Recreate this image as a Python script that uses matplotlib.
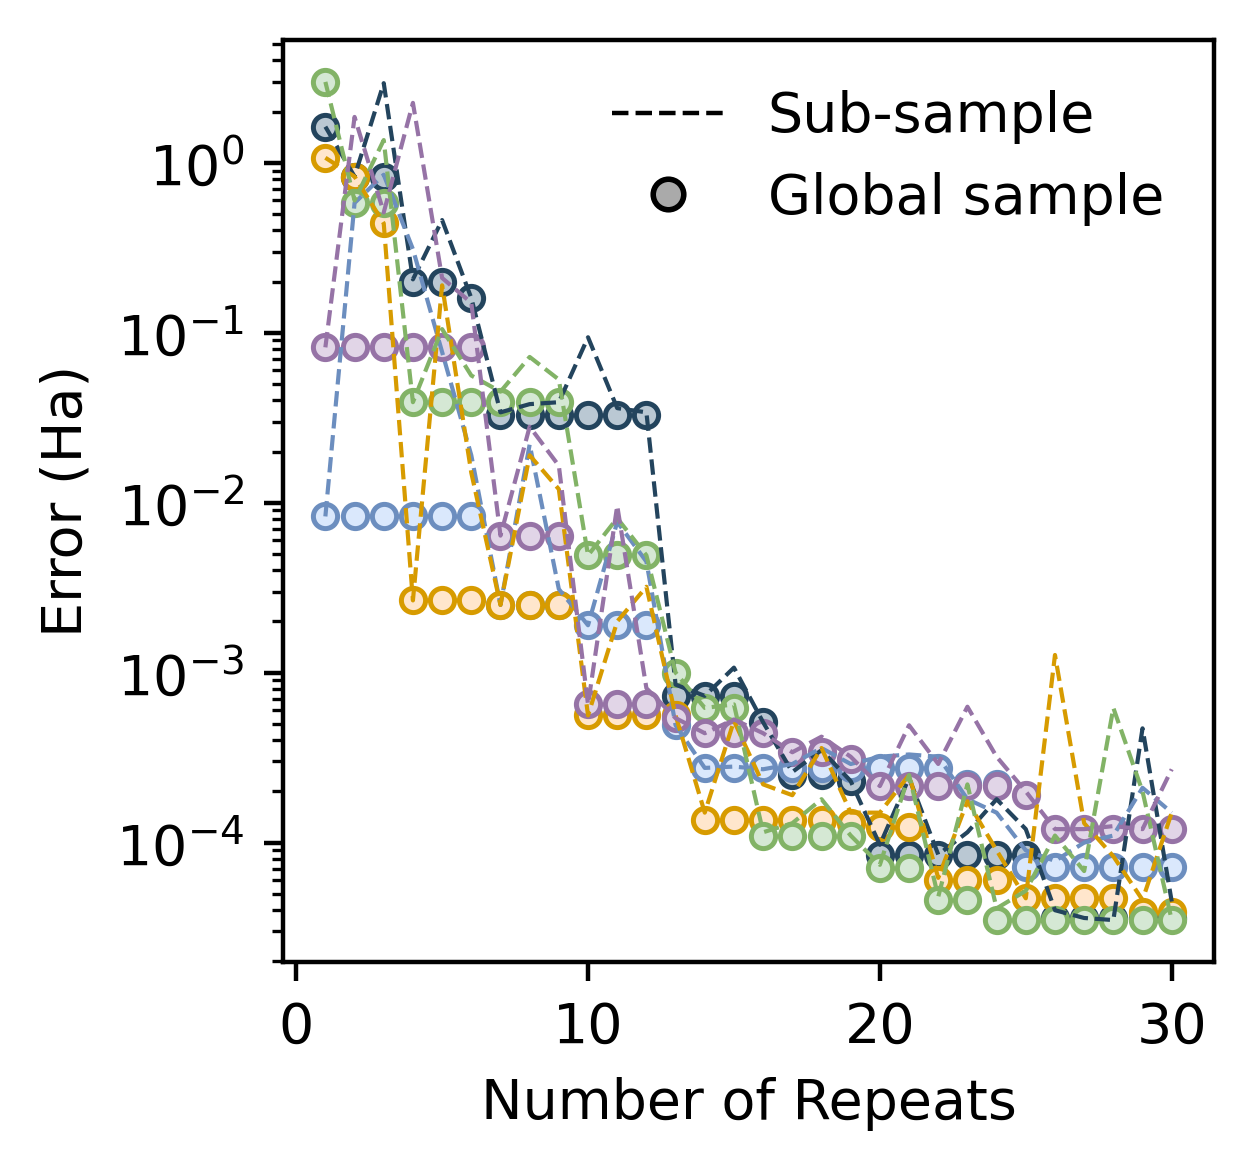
import numpy as np
import matplotlib
matplotlib.use("Agg")
import matplotlib.pyplot as plt
from matplotlib.lines import Line2D

repeats = list(range(1, 31))

navy_sub = [1.63, 0.83, 2.94, 0.206, 0.46, 0.16, 0.034, 0.038, 0.039, 0.094,
            0.036, 0.034, 8.5e-4, 7.3e-4, 1.07e-3, 5.1e-4, 2.6e-4, 3.5e-4, 2.3e-4, 9.7e-5,
            2.4e-4, 8.5e-5, 1.15e-4, 1.8e-4, 1.2e-4, 4.0e-5, 3.6e-5, 3.5e-5, 4.7e-4, 4.5e-5]
navy_glob = [1.63, 0.82, 0.82, 0.20, 0.20, 0.16, 0.033, 0.033, 0.033, 0.033,
             0.033, 0.033, 7.3e-4, 7.3e-4, 7.3e-4, 5.1e-4, 2.5e-4, 2.5e-4, 2.3e-4, 8.4e-5,
             8.4e-5, 8.4e-5, 8.4e-5, 8.4e-5, 8.4e-5, 3.6e-5, 3.6e-5, 3.6e-5, 3.6e-5, 3.6e-5]

blue_sub = [8.3e-3, 0.58, 0.85, 0.31, 0.077, 0.019, 2.5e-3, 0.022, 3.1e-3, 1.9e-3,
            7.7e-3, 4.5e-3, 4.9e-4, 2.75e-4, 2.8e-4, 2.7e-4, 2.9e-4, 3.6e-4, 2.9e-4, 3.2e-4,
            3.3e-4, 3.2e-4, 1.8e-4, 1.5e-4, 9.0e-5, 7.8e-5, 1.0e-4, 1.1e-4, 2.1e-4, 1.5e-4]
blue_glob = [8.3e-3, 8.3e-3, 8.3e-3, 8.3e-3, 8.3e-3, 8.3e-3, 2.5e-3, 2.5e-3, 2.5e-3, 1.9e-3,
             1.9e-3, 1.9e-3, 4.9e-4, 2.75e-4, 2.75e-4, 2.75e-4, 2.75e-4, 2.75e-4, 2.75e-4, 2.75e-4,
             2.75e-4, 2.75e-4, 2.2e-4, 2.2e-4, 7.2e-5, 7.2e-5, 7.2e-5, 7.2e-5, 7.2e-5, 7.2e-5]

orange_sub = [1.07, 0.83, 0.44, 2.66e-3, 0.19, 0.015, 2.5e-3, 0.019, 0.012, 5.6e-4,
              2.0e-3, 3.2e-3, 5.6e-4, 1.5e-4, 5.2e-4, 2.2e-4, 1.9e-4, 3.6e-4, 1.5e-4, 1.5e-4,
              2.5e-4, 6.2e-5, 1.75e-4, 9.0e-5, 4.7e-5, 1.27e-3, 1.3e-4, 8.3e-5, 4.6e-5, 1.5e-4]
orange_glob = [1.07, 0.83, 0.44, 2.66e-3, 2.66e-3, 2.66e-3, 2.5e-3, 2.5e-3, 2.5e-3, 5.6e-4,
               5.6e-4, 5.6e-4, 5.6e-4, 1.36e-4, 1.36e-4, 1.36e-4, 1.36e-4, 1.36e-4, 1.3e-4, 1.23e-4,
               1.23e-4, 6.0e-5, 6.0e-5, 6.0e-5, 4.7e-5, 4.7e-5, 4.7e-5, 4.7e-5, 3.9e-5, 3.9e-5]

green_sub = [2.99, 0.6, 1.36, 0.039, 0.105, 0.056, 0.045, 0.072, 0.053, 4.9e-3,
             8.1e-3, 4.9e-3, 1.0e-3, 6.2e-4, 6.5e-4, 1.15e-4, 1.3e-4, 1.8e-4, 1.1e-4, 7.4e-5,
             2.5e-4, 4.8e-5, 2.2e-4, 4.1e-5, 5.2e-5, 1.1e-4, 6.8e-5, 6.2e-4, 2.0e-4, 3.5e-5]
green_glob = [2.99, 0.58, 0.58, 0.039, 0.039, 0.039, 0.039, 0.039, 0.039, 4.9e-3,
              4.9e-3, 4.9e-3, 1.0e-3, 6.2e-4, 6.2e-4, 1.1e-4, 1.1e-4, 1.1e-4, 1.1e-4, 7.1e-5,
              7.1e-5, 4.6e-5, 4.6e-5, 3.5e-5, 3.5e-5, 3.5e-5, 3.5e-5, 3.5e-5, 3.5e-5, 3.5e-5]

purple_sub = [0.082, 1.86, 0.51, 2.25, 0.21, 0.15, 6.4e-3, 0.028, 0.0165, 6.5e-4,
              9.6e-3, 8.1e-4, 5.4e-4, 4.4e-4, 5.3e-4, 4.4e-4, 3.4e-4, 4.2e-4, 3.2e-4, 2.15e-4,
              4.9e-4, 2.9e-4, 6.3e-4, 3.2e-4, 2.0e-4, 1.2e-4, 1.2e-4, 1.25e-4, 1.2e-4, 2.7e-4]
purple_glob = [0.082, 0.082, 0.082, 0.082, 0.082, 0.082, 6.4e-3, 6.4e-3, 6.4e-3, 6.5e-4,
               6.5e-4, 6.5e-4, 5.4e-4, 4.4e-4, 4.4e-4, 4.4e-4, 3.4e-4, 3.4e-4, 3.1e-4, 2.15e-4,
               2.15e-4, 2.15e-4, 2.15e-4, 2.15e-4, 1.9e-4, 1.2e-4, 1.2e-4, 1.2e-4, 1.2e-4, 1.2e-4]

series = [
    (navy_sub, navy_glob, "#23445d", "#bac8d3"),
    (blue_sub, blue_glob, "#6c8ebf", "#dae8fc"),
    (orange_sub, orange_glob, "#d79b00", "#ffe6cc"),
    (green_sub, green_glob, "#82b366", "#d5e8d4"),
    (purple_sub, purple_glob, "#9673a6", "#e1d5e7"),
]

plt.rcParams['font.family'] = ['DejaVu Sans']
plt.rcParams['font.size'] = 10

fig = plt.figure(figsize=(1253 / 400, 1173 / 400), dpi=400)
ax = fig.add_axes([0.2259, 0.1799, 0.9689 - 0.2259, 0.9659 - 0.1799])

for sub, glob, edge, fill in series:
    ax.scatter(repeats, glob, s=19, facecolor=fill, edgecolor=edge, linewidths=0.9, zorder=1)
    ax.plot(repeats, sub, ls='--', color=edge, lw=0.75, zorder=2)

ax.set_yscale('log')
ax.set_xlabel("Number of Repeats")
ax.set_ylabel("Error (Ha)")

handles = [
    Line2D([], [], color='k', ls='--', lw=0.8),
    Line2D([], [], ls='', marker='o', markerfacecolor='#aaaaaa', markeredgecolor='k',
           markersize=5.5, markeredgewidth=1.0),
]
ax.legend(handles, ["Sub-sample", "Global sample"], loc='upper right', frameon=False)

fig.savefig("out.png", dpi=400)
